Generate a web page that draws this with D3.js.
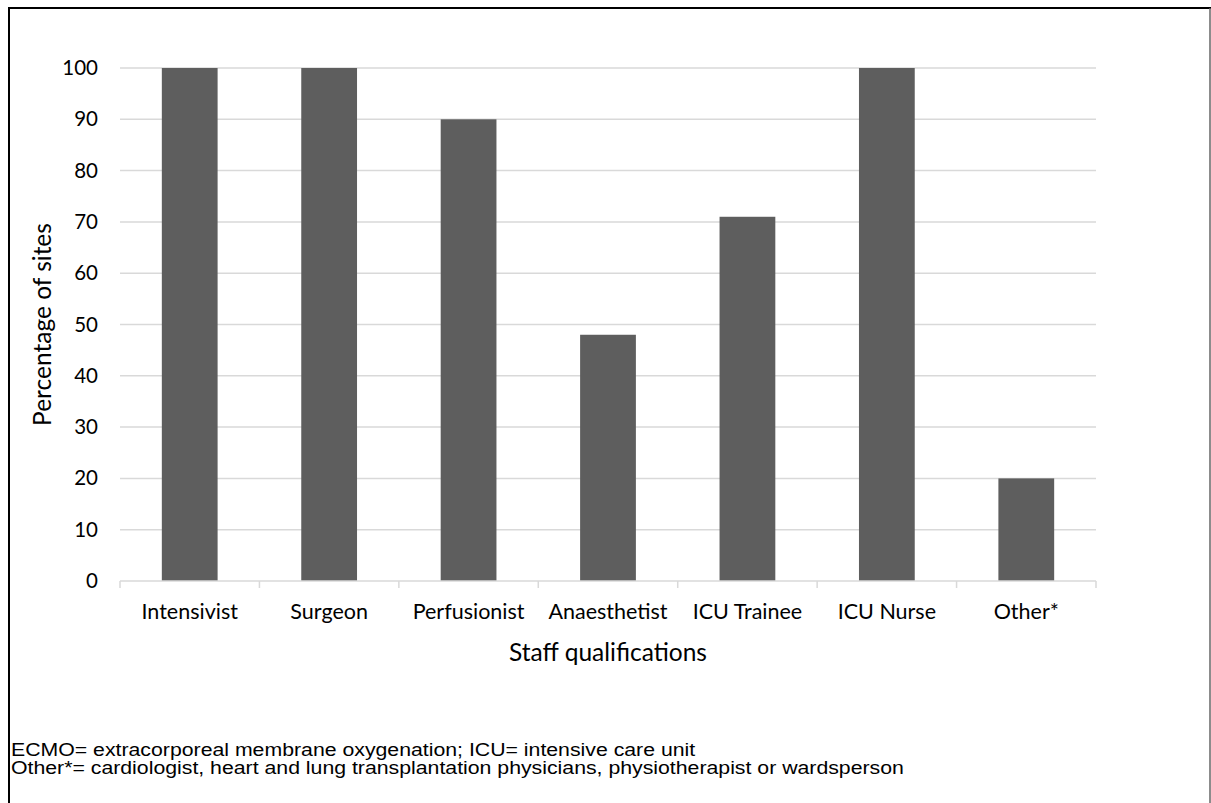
<!DOCTYPE html>
<html>
<head>
<meta charset="utf-8">
<script src="https://cdn.jsdelivr.net/npm/d3@7"></script>
<style>
  html, body { margin: 0; padding: 0; background: #fff; }
  svg { display: block; }
</style>
</head>
<body>
<script>
// Staff qualifications present at ECMO sites
const categories = ["Intensivist", "Surgeon", "Perfusionist", "Anaesthetist", "ICU Trainee", "ICU Nurse", "Other*"];
const percentages = [100, 100, 90, 48, 71, 100, 20];
const yTicks = [0, 10, 20, 30, 40, 50, 60, 70, 80, 90, 100];
const footnotes = [
  "ECMO= extracorporeal membrane oxygenation; ICU= intensive care unit",
  "Other*= cardiologist, heart and lung transplantation physicians, physiotherapist or wardsperson"
];

const W = 1211, H = 803;
const plot = { left: 120, right: 1096, top: 68, bottom: 581 };
const labelFont = "Lato, 'Open Sans', sans-serif";

const svg = d3.select("body").append("svg")
  .attr("width", W).attr("height", H);

svg.append("rect").attr("width", W).attr("height", H).attr("fill", "#fff");

// outer frame
svg.append("line").attr("x1", 9).attr("x2", 1211).attr("y1", 8).attr("y2", 8)
  .attr("stroke", "#000").attr("stroke-width", 2);
svg.append("line").attr("x1", 9).attr("x2", 9).attr("y1", 7).attr("y2", H)
  .attr("stroke", "#000").attr("stroke-width", 2);
svg.append("line").attr("x1", 1210).attr("x2", 1210).attr("y1", 8).attr("y2", H)
  .attr("stroke", "#666").attr("stroke-width", 1.5);

const x = d3.scaleBand().domain(categories)
  .range([plot.left, plot.right]).paddingInner(0.6).paddingOuter(0.3);
const y = d3.scaleLinear().domain([0, 100]).range([plot.bottom, plot.top]);

// horizontal gridlines
svg.append("g").selectAll("line").data(yTicks.filter(d => d > 0)).join("line")
  .attr("x1", plot.left).attr("x2", plot.right)
  .attr("y1", d => y(d)).attr("y2", d => y(d))
  .attr("stroke", "#d9d9d9").attr("stroke-width", 1.5);

// y axis labels
const yAxis = svg.append("g").attr("transform", `translate(${plot.left - 22},0)`)
  .call(d3.axisLeft(y).tickValues(yTicks).tickSize(0).tickPadding(0));
yAxis.select(".domain").remove();
yAxis.selectAll("text").attr("font-family", labelFont).attr("font-size", 20.5)
  .attr("fill", "#000");

// bars
svg.append("g").selectAll("rect").data(percentages).join("rect")
  .attr("x", (d, i) => x(categories[i]))
  .attr("width", x.bandwidth())
  .attr("y", d => y(d))
  .attr("height", d => y(0) - y(d))
  .attr("fill", "#5e5e5e");

// x axis line with tick marks at band edges
const step = x.step();
const edges = d3.range(categories.length + 1).map(i => plot.left + i * step);
svg.append("line").attr("x1", plot.left).attr("x2", plot.right)
  .attr("y1", y(0)).attr("y2", y(0))
  .attr("stroke", "#d9d9d9").attr("stroke-width", 1.5);
svg.append("g").selectAll("line").data(edges).join("line")
  .attr("x1", d => d).attr("x2", d => d)
  .attr("y1", y(0)).attr("y2", y(0) + 7)
  .attr("stroke", "#d9d9d9").attr("stroke-width", 1.5);

// category labels
const xAxis = svg.append("g").attr("transform", `translate(0,${y(0)})`)
  .call(d3.axisBottom(x).tickSize(0).tickPadding(23));
xAxis.select(".domain").remove();
xAxis.selectAll("text").attr("font-family", labelFont).attr("font-size", 21.5)
  .attr("fill", "#000");

// axis titles
svg.append("text").attr("x", (plot.left + plot.right) / 2).attr("y", 661)
  .attr("text-anchor", "middle").attr("font-family", labelFont)
  .attr("font-size", 24.5).attr("fill", "#000").text("Staff qualifications");
svg.append("text")
  .attr("transform", `translate(51,${(plot.top + plot.bottom) / 2}) rotate(-90)`)
  .attr("text-anchor", "middle").attr("font-family", labelFont)
  .attr("font-size", 24.5).attr("fill", "#000").text("Percentage of sites");

// footnotes (slightly widened Arial-style text)
svg.append("g").attr("transform", "translate(11,0) scale(1.15,1)")
  .selectAll("text").data(footnotes).join("text")
  .attr("x", 0).attr("y", (d, i) => 756 + i * 18)
  .attr("font-family", "'Liberation Sans', Arial, sans-serif")
  .attr("font-size", 18.5).attr("fill", "#000").text(d => d);
</script>
</body>
</html>
